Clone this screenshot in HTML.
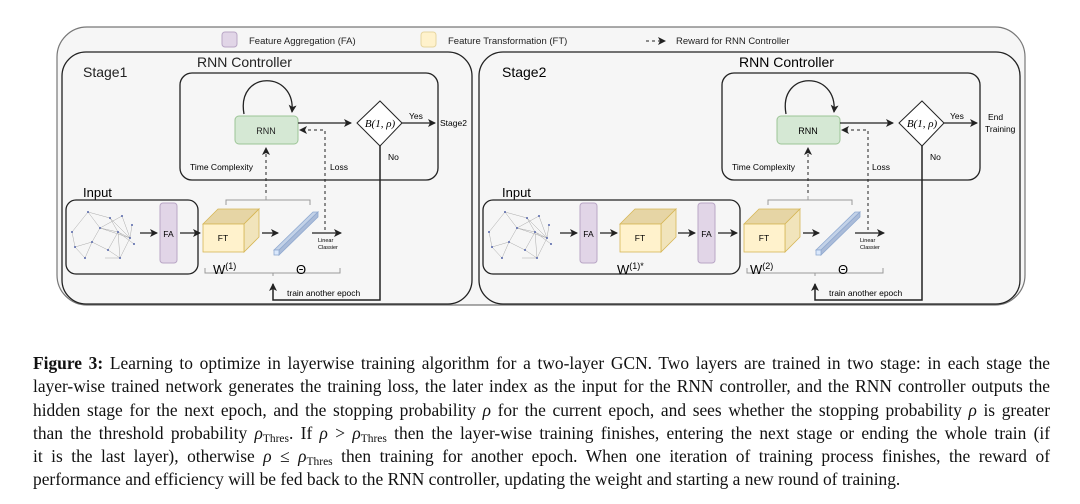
<!DOCTYPE html>
<html><head><meta charset="utf-8"><style>
html,body{margin:0;padding:0;background:#fff;width:1080px;height:504px;overflow:hidden}
svg{position:absolute;left:0;top:0}
.cap{position:absolute;left:33px;width:1017px;top:352px;font-family:"Liberation Serif",serif;font-size:17.4px;line-height:23.3px;color:#111}
.cap div{text-align:justify;text-align-last:justify;white-space:nowrap}
.cap div.last{text-align-last:left}
sub{font-size:11.5px;vertical-align:-3px;line-height:0}
</style></head><body>
<svg width="1080" height="340" viewBox="0 0 1080 340" font-family="Liberation Sans, sans-serif">
<defs>
<marker id="ah" markerWidth="8" markerHeight="8" refX="7" refY="4" orient="auto" markerUnits="userSpaceOnUse"><path d="M0,0 L8,4 L0,8 L2,4 z" fill="#222"/></marker>
</defs>
<rect x="57" y="27" width="968" height="278" rx="30" fill="#f6f6f6" stroke="#777" stroke-width="1.2"/>
<rect x="222" y="32" width="15" height="15" rx="3" fill="#e1d5e7" stroke="#b9a6c6"/>
<text x="249" y="44" font-size="9.5" fill="#222">Feature Aggregation (FA)</text>
<rect x="421" y="32" width="15" height="15" rx="3" fill="#fff2cc" stroke="#e6d5a0"/>
<text x="448" y="44" font-size="9.5" fill="#222">Feature Transformation (FT)</text>
<line x1="646" y1="41" x2="665" y2="41" stroke="#222" stroke-dasharray="3,3" marker-end="url(#ah)"/>
<text x="676" y="44" font-size="9.5" fill="#222">Reward for RNN Controller</text>

<rect x="62" y="52" width="410" height="252" rx="24" fill="#f6f6f6" stroke="#222" stroke-width="1.3"/>
<text x="83" y="77" font-size="14" fill="#222">Stage1</text>
<text x="197" y="67" font-size="14" fill="#222">RNN Controller</text>
<rect x="180" y="73" width="258" height="107" rx="12" fill="#f6f6f6" stroke="#222" stroke-width="1.3"/>
<rect x="235" y="116" width="63" height="28" rx="4" fill="#d5e8d4" stroke="#9cc596"/>
<text x="266" y="134" font-size="9" text-anchor="middle" fill="#222">RNN</text>
<path d="M244,114 C236,70 296,70 292,112" fill="none" stroke="#222" stroke-width="1.3" marker-end="url(#ah)"/>
<line x1="298" y1="123" x2="351" y2="123" stroke="#222" stroke-width="1.3" marker-end="url(#ah)"/>
<polygon points="380,101 402,123 380,146 357,123" fill="#fff" stroke="#222"/>
<text x="380" y="127" font-size="11" font-family="Liberation Serif, serif" font-style="italic" text-anchor="middle">B(1, ρ)</text>
<line x1="402" y1="123" x2="435" y2="123" stroke="#222" stroke-width="1.3" marker-end="url(#ah)"/>
<text x="409" y="119" font-size="8.5">Yes</text>
<text x="440" y="126" font-size="8.5">Stage2</text>
<text x="388" y="160" font-size="8.5">No</text>
<path d="M380,146 V300 H273 V284" fill="none" stroke="#222" stroke-width="1.5" marker-end="url(#ah)"/>
<text x="287" y="296" font-size="8.5">train another epoch</text>
<path d="M325,230 V130 H300" fill="none" stroke="#222" stroke-dasharray="3,3" marker-end="url(#ah)"/>
<text x="330" y="170" font-size="8.5">Loss</text>
<text x="190" y="170" font-size="8.5">Time Complexity</text>
<line x1="266" y1="199" x2="266" y2="148" stroke="#222" stroke-dasharray="3,3" marker-end="url(#ah)"/>
<path d="M226,205 V200 H310 V205 M266,200 V196" fill="none" stroke="#999"/>
<path d="M205,268 V273 H340 V268 M273,273 V276" fill="none" stroke="#999"/>
<text x="83" y="197" font-size="13">Input</text>
<rect x="66" y="200" width="132" height="74" rx="10" fill="#f6f6f6" stroke="#222" stroke-width="1.3"/>
<g id="graph">
<g stroke="#aaa" stroke-width="0.5" fill="none">
<path d="M72,232 L88,212 L100,228 L92,242 L75,247 L72,232 M88,212 L110,218 L118,232 L130,238 L122,216 L100,228 L118,232 L108,250 L120,258 L130,238 L100,228 M92,242 L108,250 M110,218 L130,238 L132,225 M118,232 L134,244 M75,247 L85,258 L92,242 M105,258 L120,258 L118,232"/>
</g>
<g fill="#5566aa"><circle cx="72" cy="232" r="1"/><circle cx="88" cy="212" r="1"/><circle cx="100" cy="228" r="1"/><circle cx="92" cy="242" r="1"/><circle cx="75" cy="247" r="1"/><circle cx="110" cy="218" r="1"/><circle cx="118" cy="232" r="1"/><circle cx="130" cy="238" r="1"/><circle cx="122" cy="216" r="1"/><circle cx="108" cy="250" r="1"/><circle cx="120" cy="258" r="1"/><circle cx="132" cy="225" r="1"/><circle cx="134" cy="244" r="1"/><circle cx="85" cy="258" r="1"/></g>
</g>
<line x1="140" y1="233" x2="157" y2="233" stroke="#222" stroke-width="1.3" marker-end="url(#ah)"/>
<rect x="160" y="203" width="17" height="60" rx="3" fill="#e1d5e7" stroke="#b9a6c6"/>
<text x="168.5" y="237" font-size="8.5" text-anchor="middle">FA</text>
<line x1="180" y1="233" x2="200" y2="233" stroke="#222" stroke-width="1.3" marker-end="url(#ah)"/>
<g stroke="#d6b656" stroke-width="0.8">
<polygon points="203,224 218,209 259,209 244,224" fill="#e6d5a5"/>
<polygon points="244,224 259,209 259,237 244,252" fill="#f1e4bb"/>
<rect x="203" y="224" width="41" height="28" fill="#fff2cc"/>
</g>
<text x="223" y="241" font-size="8.5" text-anchor="middle">FT</text>
<line x1="262" y1="233" x2="278" y2="233" stroke="#222" stroke-width="1.3" marker-end="url(#ah)"/>
<g stroke="#8fa9d0" stroke-width="0.8">
<polygon points="274,250 313,212 318,212 279,250" fill="#c3d2e8"/>
<polygon points="279,250 318,212 318,217 279,255" fill="#aabbd8"/>
<rect x="274" y="250" width="5" height="5" fill="#dae8fc"/>
</g>
<line x1="312" y1="233" x2="341" y2="233" stroke="#222" stroke-width="1.3" marker-end="url(#ah)"/>
<text x="318" y="242" font-size="5.5">Linear</text>
<text x="318" y="249" font-size="5.5">Classier</text>
<text x="213" y="274" font-size="13">W<tspan font-size="9" dy="-5">(1)</tspan></text>
<text x="296" y="274" font-size="13">Θ</text>

<rect x="479" y="52" width="541" height="252" rx="24" fill="#f6f6f6" stroke="#222" stroke-width="1.3"/>
<text x="502" y="77" font-size="14">Stage2</text>
<text x="739" y="67" font-size="14">RNN Controller</text>
<rect x="722" y="73" width="258" height="107" rx="12" fill="#f6f6f6" stroke="#222" stroke-width="1.3"/>
<rect x="777" y="116" width="63" height="28" rx="4" fill="#d5e8d4" stroke="#9cc596"/>
<text x="808" y="134" font-size="9" text-anchor="middle">RNN</text>
<path d="M786,114 C778,70 838,70 834,112" fill="none" stroke="#222" stroke-width="1.3" marker-end="url(#ah)"/>
<line x1="840" y1="123" x2="893" y2="123" stroke="#222" stroke-width="1.3" marker-end="url(#ah)"/>
<polygon points="922,101 944,123 922,146 899,123" fill="#fff" stroke="#222"/>
<text x="922" y="127" font-size="11" font-family="Liberation Serif, serif" font-style="italic" text-anchor="middle">B(1, ρ)</text>
<line x1="944" y1="123" x2="977" y2="123" stroke="#222" stroke-width="1.3" marker-end="url(#ah)"/>
<text x="950" y="119" font-size="8.5">Yes</text>
<text x="988" y="120" font-size="8.5">End</text>
<text x="985" y="132" font-size="8.5">Training</text>
<text x="930" y="160" font-size="8.5">No</text>
<path d="M922,146 V300 H815 V284" fill="none" stroke="#222" stroke-width="1.5" marker-end="url(#ah)"/>
<text x="829" y="296" font-size="8.5">train another epoch</text>
<path d="M868,230 V130 H842" fill="none" stroke="#222" stroke-dasharray="3,3" marker-end="url(#ah)"/>
<text x="872" y="170" font-size="8.5">Loss</text>
<text x="732" y="170" font-size="8.5">Time Complexity</text>
<line x1="808" y1="199" x2="808" y2="148" stroke="#222" stroke-dasharray="3,3" marker-end="url(#ah)"/>
<path d="M768,205 V200 H852 V205 M808,200 V196" fill="none" stroke="#999"/>
<path d="M747,268 V273 H883 V268 M815,273 V276" fill="none" stroke="#999"/>
<text x="502" y="197" font-size="13">Input</text>
<rect x="483" y="200" width="257" height="74" rx="10" fill="#f6f6f6" stroke="#222" stroke-width="1.3"/>
<use href="#graph" transform="translate(417,0)"/>
<line x1="560" y1="233" x2="577" y2="233" stroke="#222" stroke-width="1.3" marker-end="url(#ah)"/>
<rect x="580" y="203" width="17" height="60" rx="3" fill="#e1d5e7" stroke="#b9a6c6"/>
<text x="588.5" y="237" font-size="8.5" text-anchor="middle">FA</text>
<line x1="600" y1="233" x2="617" y2="233" stroke="#222" stroke-width="1.3" marker-end="url(#ah)"/>
<g stroke="#d6b656" stroke-width="0.8">
<polygon points="620,224 635,209 676,209 661,224" fill="#e6d5a5"/>
<polygon points="661,224 676,209 676,237 661,252" fill="#f1e4bb"/>
<rect x="620" y="224" width="41" height="28" fill="#fff2cc"/>
</g>
<text x="640" y="241" font-size="8.5" text-anchor="middle">FT</text>
<line x1="678" y1="233" x2="695" y2="233" stroke="#222" stroke-width="1.3" marker-end="url(#ah)"/>
<rect x="698" y="203" width="17" height="60" rx="3" fill="#e1d5e7" stroke="#b9a6c6"/>
<text x="706.5" y="237" font-size="8.5" text-anchor="middle">FA</text>
<line x1="718" y1="233" x2="737" y2="233" stroke="#222" stroke-width="1.3" marker-end="url(#ah)"/>
<text x="617" y="274" font-size="13">W<tspan font-size="9" dy="-5">(1)*</tspan></text>
<g stroke="#d6b656" stroke-width="0.8">
<polygon points="744,224 759,209 800,209 785,224" fill="#e6d5a5"/>
<polygon points="785,224 800,209 800,237 785,252" fill="#f1e4bb"/>
<rect x="744" y="224" width="41" height="28" fill="#fff2cc"/>
</g>
<text x="764" y="241" font-size="8.5" text-anchor="middle">FT</text>
<line x1="803" y1="233" x2="819" y2="233" stroke="#222" stroke-width="1.3" marker-end="url(#ah)"/>
<g stroke="#8fa9d0" stroke-width="0.8">
<polygon points="816,250 855,212 860,212 821,250" fill="#c3d2e8"/>
<polygon points="821,250 860,212 860,217 821,255" fill="#aabbd8"/>
<rect x="816" y="250" width="5" height="5" fill="#dae8fc"/>
</g>
<line x1="855" y1="233" x2="884" y2="233" stroke="#222" stroke-width="1.3" marker-end="url(#ah)"/>
<text x="860" y="242" font-size="5.5">Linear</text>
<text x="860" y="249" font-size="5.5">Classier</text>
<text x="750" y="274" font-size="13">W<tspan font-size="9" dy="-5">(2)</tspan></text>
<text x="838" y="274" font-size="13">Θ</text>
</svg>
<div class="cap">
<div><b>Figure 3:</b> Learning to optimize in layerwise training algorithm for a two-layer GCN. Two layers are trained in two stage: in each stage the</div>
<div>layer-wise trained network generates the training loss, the later index as the input for the RNN controller, and the RNN controller outputs the</div>
<div>hidden stage for the next epoch, and the stopping probability <i>ρ</i> for the current epoch, and sees whether the stopping probability <i>ρ</i> is greater</div>
<div>than the threshold probability <i>ρ</i><sub>Thres</sub>. If <i>ρ</i> &gt; <i>ρ</i><sub>Thres</sub> then the layer-wise training finishes, entering the next stage or ending the whole train (if</div>
<div>it is the last layer), otherwise <i>ρ</i> ≤ <i>ρ</i><sub>Thres</sub> then training for another epoch. When one iteration of training process finishes, the reward of</div>
<div class="last">performance and efficiency will be fed back to the RNN controller, updating the weight and starting a new round of training.</div>
</div>
</body></html>
